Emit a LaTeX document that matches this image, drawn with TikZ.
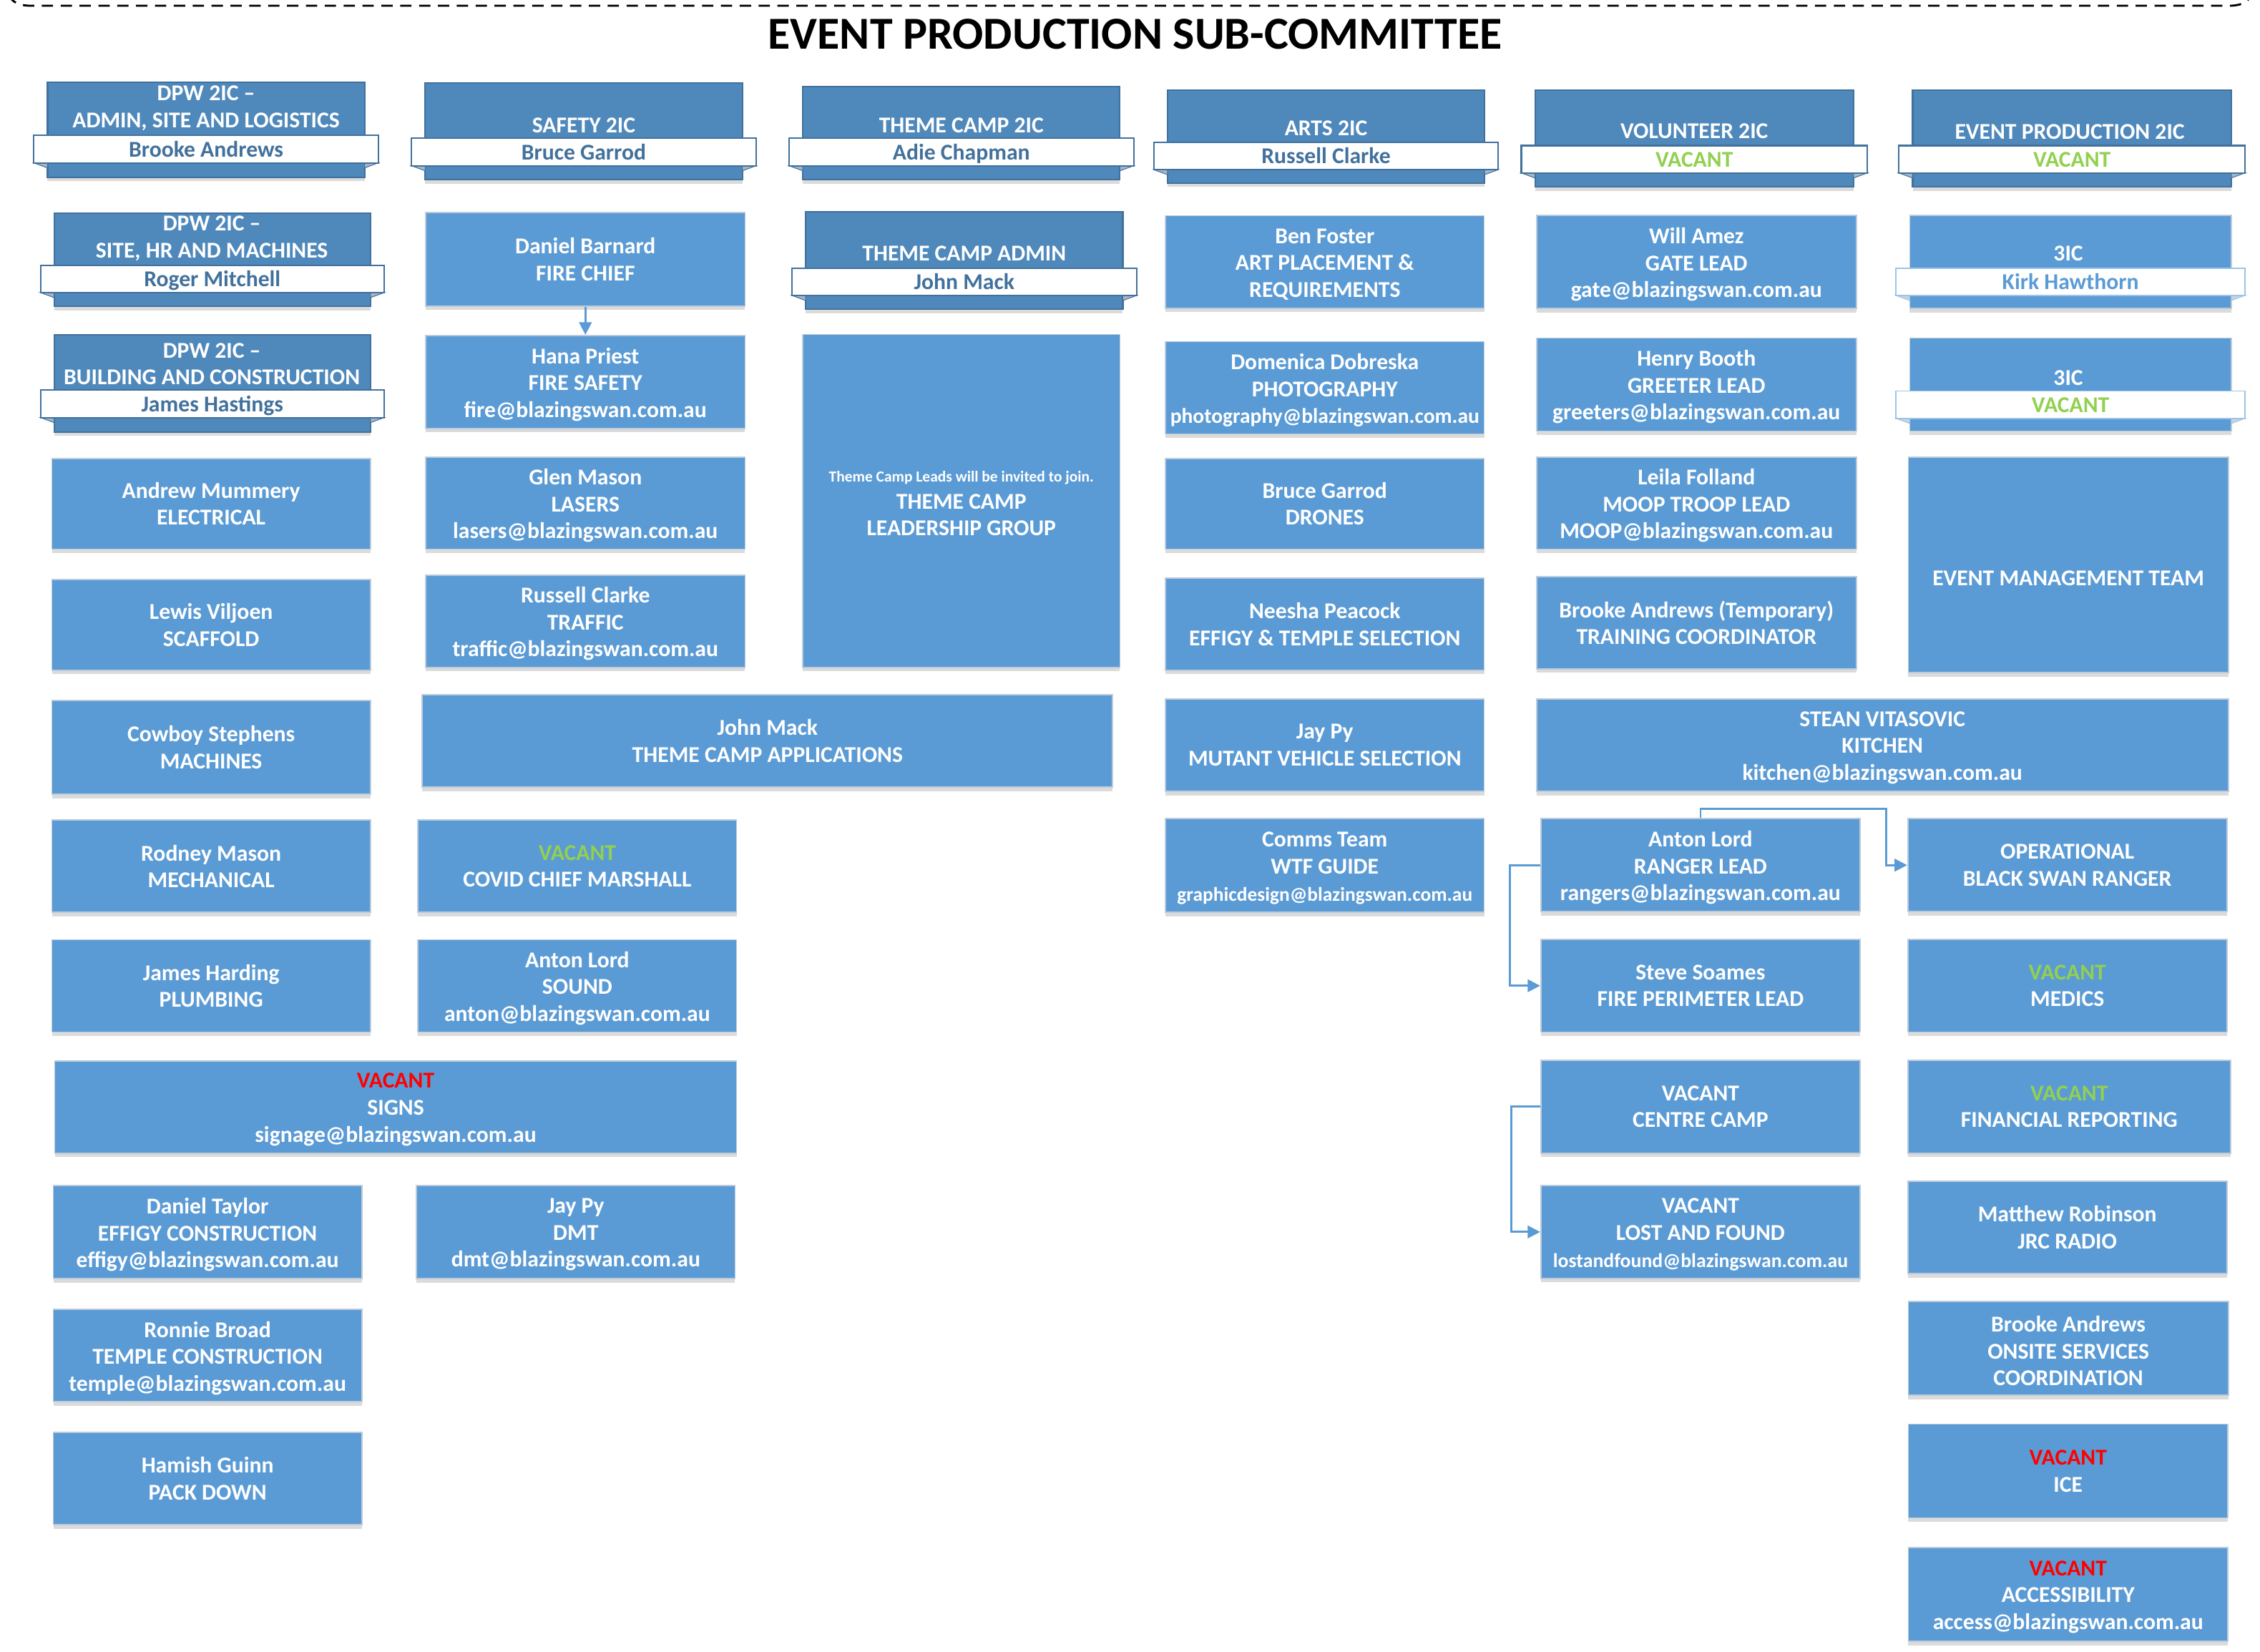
\documentclass[tikz,border=0pt]{standalone}
\usepackage{fontspec}
\setmainfont{Carlito}
\usetikzlibrary{fit,shadows,arrows.meta}
\definecolor{boxfill}{HTML}{5B9BD5}
\definecolor{boxedge}{HTML}{BCCBDB}
\definecolor{hdrfill}{HTML}{4F88BB}
\definecolor{hdredge}{HTML}{41719C}
\definecolor{lightedge}{HTML}{9DC3E6}
\definecolor{nametext}{HTML}{41719C}
\definecolor{kirktext}{HTML}{5B9BD5}
\definecolor{foldfill}{HTML}{A7B6C6}
\definecolor{vgreen}{HTML}{92D050}
\definecolor{vred}{HTML}{FF0000}
\tikzset{
  f9/.style={font=\fontsize{9}{10.7}\selectfont\bfseries},
  pshadow/.style={drop shadow={shadow xshift=0pt, shadow yshift=-1.6pt, opacity=0.14, fill=black}},
  pbox/.style={draw=boxedge, fill=boxfill, line width=0.5pt, inner sep=0pt, pshadow},
  ptext/.style={text=white, f9, align=center, inner sep=0pt},
  three/.style={yshift=-1pt},
  darkbox/.style={draw=hdredge, fill=hdrfill, line width=0.6pt, inner sep=0pt, pshadow},
  lightbox/.style={draw=boxedge, fill=boxfill, line width=0.5pt, inner sep=0pt, pshadow},
  darkband/.style={draw=hdredge, fill=white, line width=0.6pt, inner sep=0pt},
  lightband/.style={draw=lightedge, fill=white, line width=0.5pt, inner sep=0pt},
  darkbandtext/.style={text=nametext, f9, inner sep=0pt, text height=6pt, text depth=0pt},
  lightbandtext/.style={text=kirktext, f9, inner sep=0pt, text height=6pt, text depth=0pt},
  darkfold/.style={fill=foldfill, draw=hdredge, line width=0.3pt},
  lightfold/.style={fill=foldfill!60, draw=lightedge, line width=0.3pt},
  htext/.style={text=white, f9, align=center, inner sep=0pt},
  ttl/.style={font=\fontsize{18.2}{21}\selectfont\bfseries, text=black, inner sep=0pt},
  conn/.style={draw=boxfill, line width=0.8pt, -{Triangle[length=5pt,width=5pt]}},
}
% plain box: [text options], name, x1, y1, x2, y2, text
\newcommand\pb[7][]{%
  \node[pbox, fit={(#3,#4) (#5,#6)}] (#2) {};
  \node[ptext,#1] (#2t) at (#2.center) {#7};}
% ribbon header: name, dx1, dy1, dx2, dy2, band top, variant, band text
\newcommand\ribbon[8]{%
  \node[#7box, fit={(#2,#3) (#4,#5)}] (#1) {};
  \filldraw[#7fold] (#2-9.5,#6+19) -- (#2,#6+19) -- (#2,#6+22.5) -- cycle;
  \filldraw[#7fold] (#4+9.5,#6+19) -- (#4,#6+19) -- (#4,#6+22.5) -- cycle;
  \node[#7band, fit={(#2-9.5,#6) (#4+9.5,#6+19)}] (#1b) {};
  \node[#7bandtext] (#1n) at (#1b.center) {#8};
}
\begin{document}
\begin{tikzpicture}[x=0.020147cm, y=-0.020147cm]
\useasboundingbox (0,0) rectangle (1568,1146);
\fill[white] (0,0) rectangle (1568,1146);
% dashed frame edge
\draw[dashed, dash pattern=on 4.5pt off 3pt, line width=0.8pt, black]
  (6,-4) to[out=-70,in=180] (22,4) -- (1546,4) to[out=0,in=-110] (1562,-4);
\node[ttl] (title) at (787.5,23.5) {EVENT PRODUCTION SUB-COMMITTEE};

% ===== headers =====
\ribbon{h1}{33}{57}{253}{123}{94}{dark}{Brooke Andrews}
\node[htext] (h1t) at (143,75) {DPW 2IC –\\ADMIN, SITE AND LOGISTICS};
\ribbon{h2}{295}{57.5}{515}{124.6}{96}{dark}{Bruce Garrod}
\node[htext] (h2t) at (405,87) {SAFETY 2IC};
\ribbon{h3}{557}{60}{777}{124.6}{96}{dark}{Adie Chapman}
\node[htext] (h3t) at (667,87) {THEME CAMP 2IC};
\ribbon{h4}{810}{62.4}{1030}{127}{98.7}{dark}{Russell Clarke}
\node[htext] (h4t) at (920,89) {ARTS 2IC};
\ribbon{h5}{1065}{62.4}{1286}{129.5}{101}{dark}{\color{vgreen}VACANT}
\node[htext] (h5t) at (1175.5,91) {VOLUNTEER 2IC};
\ribbon{h6}{1327}{62.4}{1548}{129.5}{101}{dark}{\color{vgreen}VACANT}
\node[htext] (h6t) at (1436,91.5) {EVENT PRODUCTION 2IC};
\ribbon{h7}{37.6}{148}{257}{212.5}{184}{dark}{Roger Mitchell}
\node[htext] (h7t) at (147,165.5) {DPW 2IC –\\SITE, HR AND MACHINES};
\ribbon{h8}{37.6}{232.5}{257}{299.6}{270.7}{dark}{James Hastings}
\node[htext] (h8t) at (147,252.5) {DPW 2IC –\\BUILDING AND CONSTRUCTION};
\ribbon{h9}{559}{147}{779}{214.5}{186}{dark}{John Mack}
\node[htext] (h9t) at (669,176) {THEME CAMP ADMIN};
\ribbon{h10}{1325}{149.5}{1548}{214}{186}{light}{Kirk Hawthorn}
\node[htext] (h10t) at (1435,176) {3IC};
\ribbon{h11}{1325}{234.5}{1548}{299}{271.3}{light}{\color{vgreen}VACANT}
\node[htext] (h11t) at (1435,262) {3IC};

% ===== column 1 =====
\pb{elec}{36}{318}{257}{381}{Andrew Mummery\\ELECTRICAL}
\pb{scaf}{36}{402}{257}{465}{Lewis Viljoen\\SCAFFOLD}
\pb{mach}{36}{486}{257}{551}{Cowboy Stephens\\MACHINES}
\pb{mech}{36}{569}{257}{633}{Rodney Mason\\MECHANICAL}
\pb{plumb}{36}{652}{257}{716}{James Harding\\PLUMBING}
\pb[three]{signs}{38}{736}{511}{800}{{\color{vred}VACANT}\\SIGNS\\signage@blazingswan.com.au}
\pb[three]{effigy}{37}{822.5}{251}{887}{Daniel Taylor\\EFFIGY CONSTRUCTION\\effigy@blazingswan.com.au}
\pb[three]{temple}{37}{908.4}{251}{972.5}{Ronnie Broad\\TEMPLE CONSTRUCTION\\temple@blazingswan.com.au}
\pb{pack}{37}{993.7}{251}{1057.7}{Hamish Guinn\\PACK DOWN}

% ===== column 2 =====
\pb{fchief}{295.4}{147.5}{516.9}{212.3}{Daniel Barnard\\FIRE CHIEF}
\pb[three]{fsafe}{295.4}{232.7}{516.9}{297.2}{Hana Priest\\FIRE SAFETY\\fire@blazingswan.com.au}
\pb[three]{lasers}{295.4}{317}{516.9}{381}{Glen Mason\\LASERS\\lasers@blazingswan.com.au}
\pb[three]{traffic}{295.4}{399}{516.9}{463}{Russell Clarke\\TRAFFIC\\traffic@blazingswan.com.au}
\pb{tcapp}{293}{482}{772}{546}{John Mack\\THEME CAMP APPLICATIONS}
\pb{covid}{290}{569}{511}{633}{{\color{vgreen}VACANT}\\COVID CHIEF MARSHALL}
\pb[three]{sound}{290}{652}{511}{716}{Anton Lord\\SOUND\\anton@blazingswan.com.au}
\pb[three]{dmt}{289}{822.5}{510}{887}{Jay Py\\DMT\\dmt@blazingswan.com.au}
\draw[conn] (fchief.south) -- (fsafe.north);

% ===== column 3 =====
\pb[three]{tclg}{557}{232}{777}{463}{{\fontsize{6.1}{8}\selectfont Theme Camp Leads will be invited to join.}\\THEME CAMP\\LEADERSHIP GROUP}

% ===== column 4 =====
\pb[three]{artpl}{808.6}{149.7}{1029.7}{213.8}{Ben Foster\\ART PLACEMENT \&\\REQUIREMENTS}
\pb[three]{photo}{808.6}{237}{1029.7}{301}{Domenica Dobreska\\PHOTOGRAPHY\\{\fontsize{8.4}{10.7}\selectfont photography@blazingswan.com.au}}
\pb{drones}{808.6}{318}{1029.7}{381}{Bruce Garrod\\DRONES}
\pb{ets}{808.6}{401}{1029.7}{465}{Neesha Peacock\\EFFIGY \& TEMPLE SELECTION}
\pb{mvs}{808.6}{485}{1029.7}{549}{Jay Py\\MUTANT VEHICLE SELECTION}
\pb[three]{wtf}{808.6}{568}{1029.7}{633}{Comms Team\\WTF GUIDE\\{\fontsize{7.8}{10.7}\selectfont graphicdesign@blazingswan.com.au}}

% ===== column 5 =====
\pb[three]{gate}{1066}{149.5}{1288}{214}{Will Amez\\GATE LEAD\\gate@blazingswan.com.au}
\pb[three]{greet}{1066}{234.5}{1288}{299}{Henry Booth\\GREETER LEAD\\greeters@blazingswan.com.au}
\pb[three]{moop}{1066}{317}{1288}{381}{Leila Folland\\MOOP TROOP LEAD\\MOOP@blazingswan.com.au}
\pb{train}{1066}{400}{1288}{464}{Brooke Andrews (Temporary)\\TRAINING COORDINATOR}
\pb[three]{kitchen}{1066}{485}{1546}{549}{STEAN VITASOVIC\\KITCHEN\\kitchen@blazingswan.com.au}
\pb[three]{ranger}{1069}{568}{1290.6}{632.4}{Anton Lord\\RANGER LEAD\\rangers@blazingswan.com.au}
\pb{perim}{1069}{651.7}{1290.6}{716}{Steve Soames\\FIRE PERIMETER LEAD}
\pb{centre}{1069}{735.6}{1290.6}{800}{VACANT\\CENTRE CAMP}
\pb[three]{lost}{1069}{822.5}{1290.6}{886.8}{VACANT\\LOST AND FOUND\\{\fontsize{7.9}{10.7}\selectfont lostandfound@blazingswan.com.au}}

% ===== column 6 =====
\pb[yshift=-5.4pt]{emt}{1324}{317}{1546}{466.6}{EVENT MANAGEMENT TEAM}
\pb{obsr}{1323.6}{568}{1545}{632.4}{OPERATIONAL\\BLACK SWAN RANGER}
\pb{medics}{1323.6}{651.7}{1545}{716}{{\color{vgreen}VACANT}\\MEDICS}
\pb{finrep}{1323.6}{735.6}{1547.6}{800}{{\color{vgreen}VACANT}\\FINANCIAL REPORTING}
\pb{jrc}{1323.6}{819.6}{1545}{883.6}{Matthew Robinson\\JRC RADIO}
\pb[three]{onsite}{1324}{903}{1546}{968}{Brooke Andrews\\ONSITE SERVICES\\COORDINATION}
\pb{ice}{1324}{988}{1545.7}{1053}{{\color{vred}VACANT}\\ICE}
\pb[three]{access}{1324}{1073.6}{1545.7}{1138.6}{{\color{vred}VACANT}\\ACCESSIBILITY\\access@blazingswan.com.au}

% ===== connectors =====
\coordinate (rk) at (1308.5,561);
\draw[conn] (ranger.north) |- (rk) |- (obsr.west);
\draw[conn] (ranger.west) -- ++(-21,0) |- (perim.west);
\draw[conn] (centre.west) -- ++(-20,0) |- (lost.west);
\end{tikzpicture}
\end{document}
